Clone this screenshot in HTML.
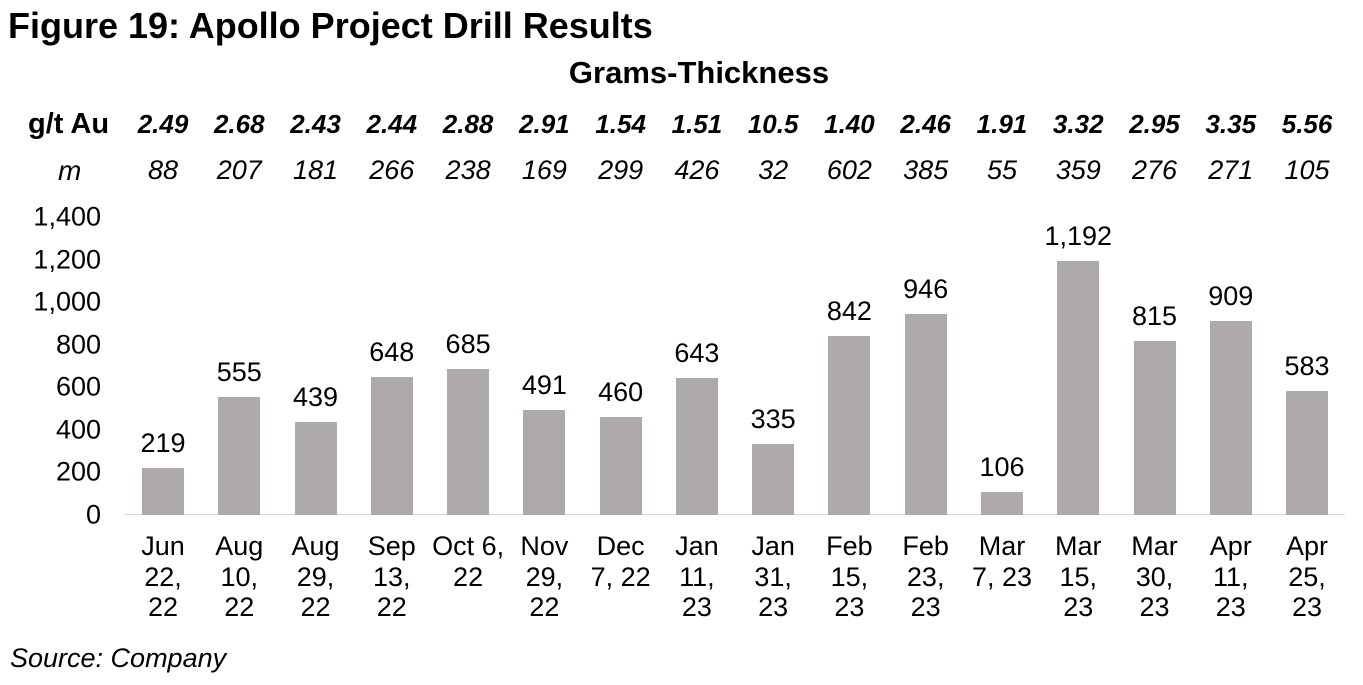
<!DOCTYPE html>
<html><head><meta charset="utf-8"><style>
body{margin:0;width:1363px;height:685px;background:#fff;font-family:"Liberation Sans",Arial,sans-serif;position:relative;overflow:hidden;color:#000}
.a{position:absolute;white-space:nowrap}
.t{font-weight:bold;font-size:36px;left:8px;top:5px}
.gt{font-weight:bold;font-size:31px;left:0;width:1398px;text-align:center;top:55px}
.r{font-size:27px;transform:translateX(-50%)}
.y{font-size:27px;right:1262px;text-align:right;transform:translateY(-50%)}
.bar{position:absolute;background:#aeaaaa;width:42px}
.x{font-size:27px;text-align:center;line-height:30.5px;transform:translateX(-50%);top:531px}
</style></head><body>
<div class="a t">Figure 19: Apollo Project Drill Results</div>
<div class="a gt">Grams-Thickness</div>
<div class="a" style="left:28px;top:108px;font-size:29px;font-weight:bold">g/t Au</div>
<div class="a" style="left:58px;top:155px;font-size:28px;font-style:italic">m</div>
<div class="a" style="left:125px;top:514px;width:1220px;height:1px;background:#d9d9d9"></div>
<div id="c"></div>
<script>
var d=[219,555,439,648,685,491,460,643,335,842,946,106,1192,815,909,583];
var g=["2.49","2.68","2.43","2.44","2.88","2.91","1.54","1.51","10.5","1.40","2.46","1.91","3.32","2.95","3.35","5.56"];
var m=[88,207,181,266,238,169,299,426,32,602,385,55,359,276,271,105];
var x=["Jun<br>22,<br>22","Aug<br>10,<br>22","Aug<br>29,<br>22","Sep<br>13,<br>22","Oct 6,<br>22","Nov<br>29,<br>22","Dec<br>7, 22","Jan<br>11,<br>23","Jan<br>31,<br>23","Feb<br>15,<br>23","Feb<br>23,<br>23","Mar<br>7, 23","Mar<br>15,<br>23","Mar<br>30,<br>23","Apr<br>11,<br>23","Apr<br>25,<br>23"];
var h="",s=0.2129,b=515;
for(var i=0;i<=7;i++){var v=i*200;h+='<div class="a y" style="top:'+(b-v*s)+'px">'+v.toLocaleString('en-US')+'</div>';}
for(var i=0;i<16;i++){var c=163+i*76.27,t=b-d[i]*s;
h+='<div class="bar" style="left:'+(c-21)+'px;top:'+t+'px;height:'+(b-t)+'px"></div>';
h+='<div class="a r" style="left:'+c+'px;top:'+(t-40)+'px">'+d[i].toLocaleString('en-US')+'</div>';
h+='<div class="a r" style="left:'+c+'px;top:109px;font-size:26px;font-weight:bold;font-style:italic">'+g[i]+'</div>';
h+='<div class="a r" style="left:'+c+'px;top:155px;font-style:italic">'+m[i]+'</div>';
h+='<div class="a x" style="left:'+c+'px">'+x[i]+'</div>';}
document.getElementById('c').innerHTML=h;
</script>
<div class="a" style="left:10px;top:643px;font-size:27px;font-style:italic">Source: Company</div>
</body></html>
